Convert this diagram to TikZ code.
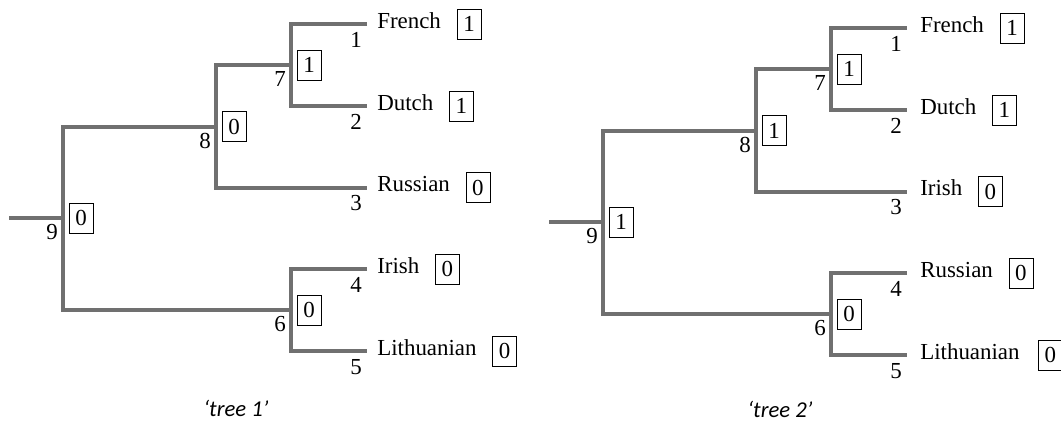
\documentclass[tikz,border=0pt]{standalone}
\usepackage{fontspec}
\setmainfont{Liberation Serif}
\newfontfamily\capfont{Carlito}
\definecolor{branchgray}{RGB}{112,112,112}
\newcommand\labelsize{\fontsize{17.2}{21}\selectfont}
\tikzset{
  branch/.style={draw=branchgray, line width=3pt},
  taxon/.style={anchor=base west, inner sep=0pt, font=\labelsize},
  tipnum/.style={inner sep=0pt, font=\labelsize},
  nodenum/.style={inner sep=0pt, font=\labelsize},
  state/.style={draw=black, line width=0.7pt, minimum width=18pt,
    minimum height=22.5pt, inner sep=0pt, font=\labelsize},
  leafstate/.style={state, anchor=west, xshift=11.5pt},
  caption/.style={inner sep=0pt, font=\capfont\itshape\fontsize{17}{20}\selectfont}
}
\begin{document}
\begin{tikzpicture}[x=0.75pt, y=-0.75pt]
\useasboundingbox (0,0) rectangle (1061,421);

% ---------- tree 1 ----------
\coordinate (a1) at (367,24);
\coordinate (a2) at (367,106);
\coordinate (a3) at (367,187.5);
\coordinate (a4) at (367,269);
\coordinate (a5) at (367,351);
\coordinate (a7) at (291,65);
\coordinate (a8) at (216,126.5);
\coordinate (a6) at (291,310);
\coordinate (a9) at (63,218);
\coordinate (a0) at (9,218);

\draw[branch] (a1) -| (a7) |- (a2);
\draw[branch] (a7) -| (a8) |- (a3);
\draw[branch] (a4) -| (a6) |- (a5);
\draw[branch] (a8) -| (a9) |- (a6);
\draw[branch] (a0) -- (a9);

\node[taxon] (a1t) at ([shift={(10,4)}]a1) {French};
\node[taxon] (a2t) at ([shift={(10,4)}]a2) {Dutch};
\node[taxon] (a3t) at ([shift={(10,4)}]a3) {Russian};
\node[taxon] (a4t) at ([shift={(10,4)}]a4) {Irish};
\node[taxon] (a5t) at ([shift={(10,4)}]a5) {Lithuanian};

\node[leafstate] (a1s) at (a1t.east |- a1) {1};
\node[leafstate] (a2s) at (a2t.east |- a2) {1};
\node[leafstate] (a3s) at (a3t.east |- a3) {0};
\node[leafstate] (a4s) at (a4t.east |- a4) {0};
\node[leafstate] (a5s) at (a5t.east |- a5) {0};

\node[tipnum] (a1n) at ([shift={(-11,16)}]a1) {1};
\node[tipnum] (a2n) at ([shift={(-11,16)}]a2) {2};
\node[tipnum] (a3n) at ([shift={(-11,16)}]a3) {3};
\node[tipnum] (a4n) at ([shift={(-11,16)}]a4) {4};
\node[tipnum] (a5n) at ([shift={(-11,16)}]a5) {5};

\node[nodenum] (a7n) at ([shift={(-11,14)}]a7) {7};
\node[nodenum] (a8n) at ([shift={(-11,14)}]a8) {8};
\node[nodenum] (a9n) at ([shift={(-11,14)}]a9) {9};
\node[nodenum] (a6n) at ([shift={(-11,14)}]a6) {6};

\node[state] (a7s) at ([shift={(18,0)}]a7) {1};
\node[state] (a8s) at ([shift={(18,0)}]a8) {0};
\node[state] (a9s) at ([shift={(18,0)}]a9) {0};
\node[state] (a6s) at ([shift={(18,0)}]a6) {0};

\node[caption] (cap1) at (236,408) {‘tree 1’};

% ---------- tree 2 ----------
\begin{scope}[shift={(540,4)}]
\coordinate (b1) at (367,24);
\coordinate (b2) at (367,106);
\coordinate (b3) at (367,187.5);
\coordinate (b4) at (367,269);
\coordinate (b5) at (367,351);
\coordinate (b7) at (291,65);
\coordinate (b8) at (216,126.5);
\coordinate (b6) at (291,310);
\coordinate (b9) at (63,218);
\coordinate (b0) at (9,218);

\draw[branch] (b1) -| (b7) |- (b2);
\draw[branch] (b7) -| (b8) |- (b3);
\draw[branch] (b4) -| (b6) |- (b5);
\draw[branch] (b8) -| (b9) |- (b6);
\draw[branch] (b0) -- (b9);

\node[taxon] (b1t) at ([shift={(13,4)}]b1) {French};
\node[taxon] (b2t) at ([shift={(13,4)}]b2) {Dutch};
\node[taxon] (b3t) at ([shift={(13,4)}]b3) {Irish};
\node[taxon] (b4t) at ([shift={(13,4)}]b4) {Russian};
\node[taxon] (b5t) at ([shift={(13,4)}]b5) {Lithuanian};

\node[leafstate] (b1s) at (b1t.east |- b1) {1};
\node[leafstate] (b2s) at (b2t.east |- b2) {1};
\node[leafstate] (b3s) at (b3t.east |- b3) {0};
\node[leafstate] (b4s) at (b4t.east |- b4) {0};
% the last box runs into the right edge of the page
\node[leafstate, xshift=2pt] (b5s) at (b5t.east |- b5) {0};

\node[tipnum] (b1n) at ([shift={(-11,16)}]b1) {1};
\node[tipnum] (b2n) at ([shift={(-11,16)}]b2) {2};
\node[tipnum] (b3n) at ([shift={(-11,16)}]b3) {3};
\node[tipnum] (b4n) at ([shift={(-11,16)}]b4) {4};
\node[tipnum] (b5n) at ([shift={(-11,16)}]b5) {5};

\node[nodenum] (b7n) at ([shift={(-11,14)}]b7) {7};
\node[nodenum] (b8n) at ([shift={(-11,14)}]b8) {8};
\node[nodenum] (b9n) at ([shift={(-11,14)}]b9) {9};
\node[nodenum] (b6n) at ([shift={(-11,14)}]b6) {6};

\node[state] (b7s) at ([shift={(18,0)}]b7) {1};
\node[state] (b8s) at ([shift={(18,0)}]b8) {1};
\node[state] (b9s) at ([shift={(18,0)}]b9) {1};
\node[state] (b6s) at ([shift={(18,0)}]b6) {0};

\node[caption] (cap2) at (240,405) {‘tree 2’};
\end{scope}
\end{tikzpicture}
\end{document}
